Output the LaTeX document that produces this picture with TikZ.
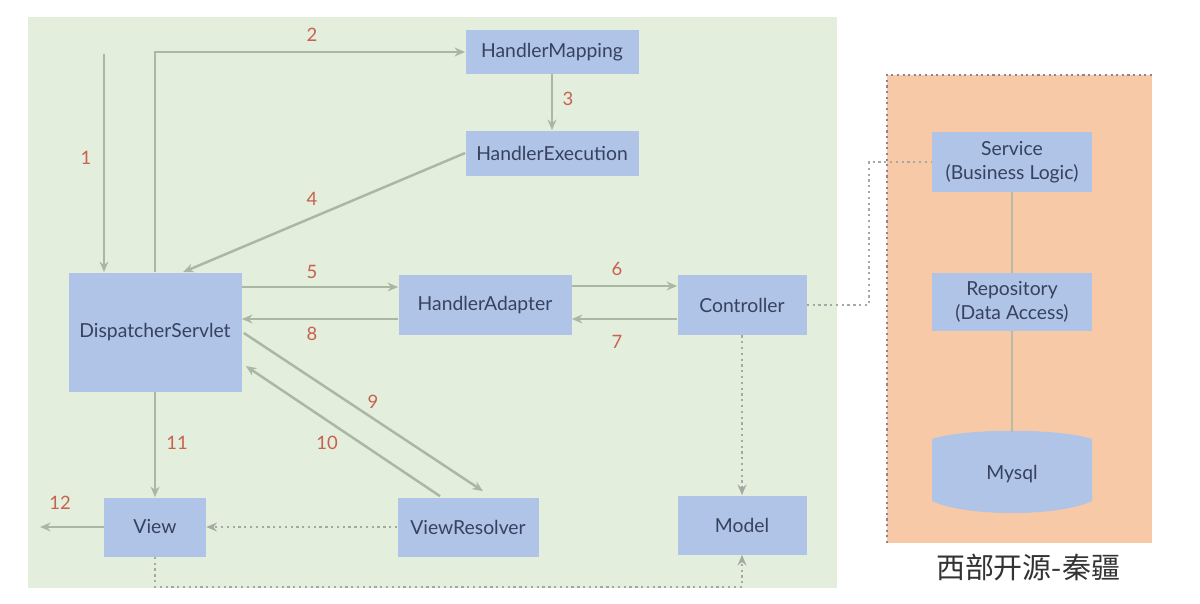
\documentclass[tikz,border=0pt]{standalone}
\usepackage{fontspec}
\setmainfont{Lato}
\newfontfamily\cjk{Noto Sans CJK SC}
\usetikzlibrary{arrows.meta,calc}
\definecolor{bggreen}{HTML}{E3EEDC}
\definecolor{boxblue}{HTML}{B0C4E8}
\definecolor{boxtext}{HTML}{36425E}
\definecolor{arrgray}{HTML}{A9B8A3}
\definecolor{numred}{HTML}{C8614F}
\definecolor{peach}{HTML}{F8C9A6}
\definecolor{dotgray}{HTML}{A3AAA6}
\definecolor{bordergray}{HTML}{8E8294}
\def\pxu{0.02cm}
\tikzset{
  box/.style={fill=boxblue, text=boxtext, inner sep=0pt, align=center,
    font=\fontsize{11}{13.6}\selectfont},
  arr/.style={draw=arrgray, line width=1.4pt, -{Stealth[length=6pt,width=5pt]}},
  thinline/.style={draw=arrgray!80!peach, line width=1.2pt},
  dotarr/.style={draw=dotgray, line width=1.3pt, dotted, -{Stealth[length=6pt,width=5pt]}},
  dotline/.style={draw=dotgray, line width=1.3pt, dotted},
  num/.style={text=numred, font=\fontsize{10.5}{12}\selectfont, inner sep=0pt},
}
\begin{document}
\begin{tikzpicture}[x=0.02cm,y=-0.02cm]
\useasboundingbox (0,0) rectangle (1200,603);
\fill[white] (0,0) rectangle (1200,603);
% backgrounds
\fill[bggreen] (28,17) rectangle (837,588);
\fill[peach] (887,75) rectangle (1152,543);
\draw[bordergray, dotted, line width=1.2pt] (887,543) -- (887,75) -- (1152,75);

% nodes
\node[box, minimum width=173*\pxu, minimum height=44*\pxu] (hm) at (552,52) {HandlerMapping};
\node[box, minimum width=173*\pxu, minimum height=45*\pxu] (he) at (552,153) {HandlerExecution};
\node[box, minimum width=173*\pxu, minimum height=119*\pxu] (ds) at (155,332) {DispatcherServlet};
\node[box, minimum width=173*\pxu, minimum height=60*\pxu] (ha) at (485,305) {HandlerAdapter};
\node[box, minimum width=129*\pxu, minimum height=60*\pxu] (ctl) at (742,305) {Controller};
\node[box, minimum width=102*\pxu, minimum height=59*\pxu] (view) at (155,527) {View};
\node[box, minimum width=141*\pxu, minimum height=59*\pxu] (vr) at (468,527) {ViewResolver};
\node[box, minimum width=129*\pxu, minimum height=59*\pxu] (model) at (742,525) {Model};
\node[box, minimum width=160*\pxu, minimum height=60*\pxu] (svc) at (1012,162) {Service\\(Business Logic)};
\node[box, minimum width=160*\pxu, minimum height=58*\pxu] (repo) at (1012,302) {Repository\\(Data Access)};
% Mysql cylinder
\fill[boxblue] (932,439) .. controls (965,428) and (1059,428) .. (1092,439)
  -- (1092,501) .. controls (1059,517) and (965,517) .. (932,501) -- cycle;
\node[box, fill=none, minimum width=160*\pxu, minimum height=80*\pxu] (db) at (1012,474) {Mysql};

% connectors
\coordinate (in1) at (104,54);
\draw[arr] (in1) -- (in1 |- ds.north);
\draw[arr] (ds.north) |- (hm.west);
\draw[arr, line width=1pt] (hm.south) -- (he.north);
\draw[arr] (he.west) -- ($(ds.north)+(28,0)$);
\coordinate (a5) at ($(ha.west)+(0,-18)$);
\draw[arr] (ds.east |- a5) -- (a5);
\draw[arr] ($(ha.east)+(0,-19)$) -- ($(ctl.west)+(0,-19)$);
\draw[arr] ($(ctl.west)+(0,14)$) -- ($(ha.east)+(0,14)$);
\coordinate (a8) at ($(ha.west)+(0,14)$);
\draw[arr] (a8) -- (ds.east |- a8);
\draw[arr] ($(ds.east)+(2,1)$) -- ($(vr.north)+(15,-6)$);
\draw[arr] ($(vr.north)+(-28,-1)$) -- ($(ds.east)+(4,34)$);
\draw[arr] (ds.south) -- (view.north);
\coordinate (out12) at (40,527);
\draw[arr] (view.west) -- (out12);
\draw[dotarr] (vr.west) -- (view.east);
\draw[dotarr] (ctl.south) -- (model.north);
\draw[dotarr] (view.south) -- ++(0,30) -| (model.south);
\coordinate (bend) at (869,305);
\draw[dotline] (ctl.east) -- (bend) |- (svc.west);
\draw[thinline] (svc.south) -- (repo.north);
\draw[thinline] (repo.south) -- (1012,432);

% labels
\node[num] (l1) at (86,158) {1};
\node[num] (l2) at (312,35) {2};
\node[num] (l3) at (568,99) {3};
\node[num] (l4) at (312,199) {4};
\node[num] (l5) at (312,272) {5};
\node[num] (l6) at (617,269) {6};
\node[num] (l7) at (617,342) {7};
\node[num] (l8) at (312,334) {8};
\node[num] (l9) at (373,402) {9};
\node[num] (l10) at (327,443) {10};
\node[num] (l11) at (177,443) {11};
\node[num] (l12) at (60,503) {12};

\node[text=black!80, font=\cjk\fontsize{16.5}{18}\selectfont, inner sep=0pt] (cap) at (1028,567) {西部开源-秦疆};
\end{tikzpicture}
\end{document}
